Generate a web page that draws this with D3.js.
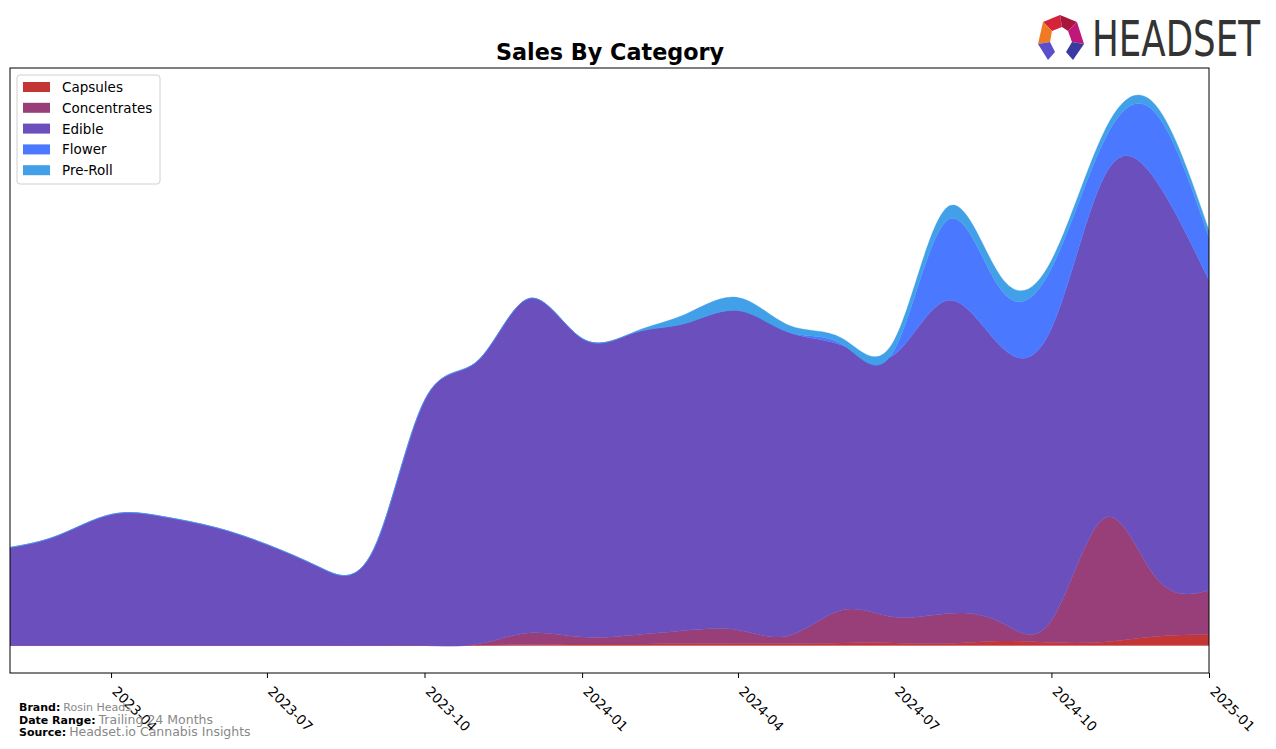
<!DOCTYPE html>
<html>
<head>
<meta charset="utf-8">
<script src="https://cdn.jsdelivr.net/npm/d3@7"></script>
<style>
  html, body { margin: 0; padding: 0; background: #fff; }
  svg { display: block; }
  text { font-family: "DejaVu Sans", sans-serif; }
</style>
</head>
<body>
<svg id="chart" width="1276" height="749"></svg>
<script>
// ---- Data (arbitrary sales units) ----
const months = ["2023-02","2023-03","2023-04","2023-05","2023-06","2023-07","2023-08","2023-09",
  "2023-10","2023-11","2023-12","2024-01","2024-02","2024-03","2024-04","2024-05","2024-06",
  "2024-07","2024-08","2024-09","2024-10","2024-11","2024-12","2025-01"];
const categories = ["Capsules","Concentrates","Edible","Flower","Pre-Roll"];
const capsules     = [0,0,0,0,0,0,0,0, 0,0.5,1,1.5,1.5,2,2,2,2.5, 2.5,2,4.5,3,3.5,9,11];
const concentrates = [0,0,0,0,0,0,0,0, 0,1,11.5,7,9,13,13.5,8,33, 26,30,19,22,124,59,44];
const edible       = [98,110,131,129,118,101,78,95, 245,283,334.5,298.5,302.5,307,319.5,303,264.5, 262,313,276.5,292,342,397,310];
const flower       = [0,0,0,0,0,0,0,0, 0,0,0,0,0,0,0,0,1, 4,80,57,60,36,67,43];
const preRoll      = [0,0,0,0,0,0,0,0, 0,0,0,0,1,9,13,7,6, 10,13,13,8,9,8,7];
const tickLabels = ["2023-04","2023-07","2023-10","2024-01","2024-04","2024-07","2024-10","2025-01"];
const colors = ["#c43636","#983f7a","#6a4fbd","#4a78ff","#41a0e8"];

// ---- Layout ----
const svg = d3.select("#chart");
const plot = {left: 10, right: 1209, top: 68, bottom: 673};
const parse = d3.utcParse("%Y-%m");

const rows = months.map((m, i) => ({
  date: parse(m),
  "Capsules": capsules[i], "Concentrates": concentrates[i], "Edible": edible[i],
  "Flower": flower[i], "Pre-Roll": preRoll[i]
}));

const x = d3.scaleUtc()
  .domain([parse(months[0]), parse(months[months.length - 1])])
  .range([plot.left, plot.right]);

const stack = d3.stack().keys(categories);
const series = stack(rows);
const peak = 550; // highest point of the smoothed top curve
const y = d3.scaleLinear()
  .domain([-0.05 * peak, 1.05 * peak])
  .range([plot.bottom, plot.top]);

const area = d3.area()
  .x(d => x(d.data.date))
  .y0(d => y(d[0]))
  .y1(d => y(d[1]))
  .curve(d3.curveNatural);

svg.append("defs").append("clipPath").attr("id", "clip")
  .append("rect").attr("x", plot.left).attr("y", plot.top)
  .attr("width", plot.right - plot.left).attr("height", plot.bottom - plot.top);

svg.append("g").attr("clip-path", "url(#clip)")
  .selectAll("path").data(series).join("path")
  .attr("d", area)
  .attr("fill", (d, i) => colors[i])
  .attr("stroke", (d, i) => colors[i])
  .attr("stroke-width", 0.6)
  .attr("stroke-opacity", 0.6);

// frame
svg.append("rect")
  .attr("x", plot.left).attr("y", plot.top)
  .attr("width", plot.right - plot.left).attr("height", plot.bottom - plot.top)
  .attr("fill", "none").attr("stroke", "#000").attr("stroke-width", 1);

// x axis
const tickDates = tickLabels.map(parse);
const xAxis = d3.axisBottom(x)
  .tickValues(tickDates)
  .tickFormat(d3.utcFormat("%Y-%m"))
  .tickSize(5).tickPadding(4);
const gx = svg.append("g").attr("transform", `translate(0,${plot.bottom})`).call(xAxis);
gx.select(".domain").remove();
gx.selectAll(".tick line").attr("stroke", "#000");
gx.selectAll(".tick text")
  .attr("font-size", 13.5)
  .attr("font-family", "DejaVu Sans")
  .attr("fill", "#000")
  .attr("text-anchor", "start")
  .attr("dy", 0)
  .attr("transform", "translate(6,13) rotate(45)");

// title
svg.append("text")
  .attr("x", 610).attr("y", 60)
  .attr("text-anchor", "middle")
  .attr("font-size", 22.3).attr("font-weight", "bold")
  .text("Sales By Category");

// legend
const lg = svg.append("g").attr("transform", "translate(17,75)");
lg.append("rect").attr("width", 143).attr("height", 109).attr("rx", 3)
  .attr("fill", "#fff").attr("fill-opacity", 0.8).attr("stroke", "#d0d0d0");
categories.forEach((c, i) => {
  const row = lg.append("g").attr("transform", `translate(0,${12 + i * 20.8})`);
  row.append("rect").attr("x", 6).attr("y", -5).attr("width", 27).attr("height", 10).attr("fill", colors[i]);
  row.append("text").attr("x", 45).attr("y", 5).attr("font-size", 13.5).text(c);
});

// footer
const foot = [
  {label: "Brand:", value: "Rosin Heads", y: 711, vs: 11},
  {label: "Date Range:", value: "Trailing 24 Months", y: 724, vs: 12.5},
  {label: "Source:", value: "Headset.io Cannabis Insights", y: 736, vs: 12.5}
];
foot.forEach(f => {
  const t = svg.append("text").attr("x", 19).attr("y", f.y);
  t.append("tspan").attr("font-size", 11).attr("font-weight", "bold").attr("fill", "#000").text(f.label);
  t.append("tspan").attr("font-size", f.vs).attr("fill", "#888").attr("dx", 3).text(f.value);
});

// logo
const logo = svg.append("g");
logo.append("polygon").attr("points", "1043,22 1060,15 1062,27 1052,31").attr("fill", "#d4243a");
logo.append("polygon").attr("points", "1060,15 1077,22 1068,31 1062,27").attr("fill", "#a8163c");
logo.append("polygon").attr("points", "1043,22 1052,31 1050,42 1038,44").attr("fill", "#f07a24");
logo.append("polygon").attr("points", "1077,22 1084,44 1072,42 1068,31").attr("fill", "#c0187a");
logo.append("polygon").attr("points", "1038,44 1050,42 1055,52 1048,60").attr("fill", "#5a4fc8");
logo.append("polygon").attr("points", "1084,44 1072,42 1066,52 1073,60").attr("fill", "#3a3aa0");
logo.append("text").attr("x", 1092).attr("y", 56)
  .attr("font-family", "Liberation Sans Narrow, Liberation Sans, sans-serif")
  .attr("font-size", 50).attr("fill", "#333")
  .attr("textLength", 168).attr("lengthAdjust", "spacingAndGlyphs")
  .text("HEADSET");
</script>
</body>
</html>
